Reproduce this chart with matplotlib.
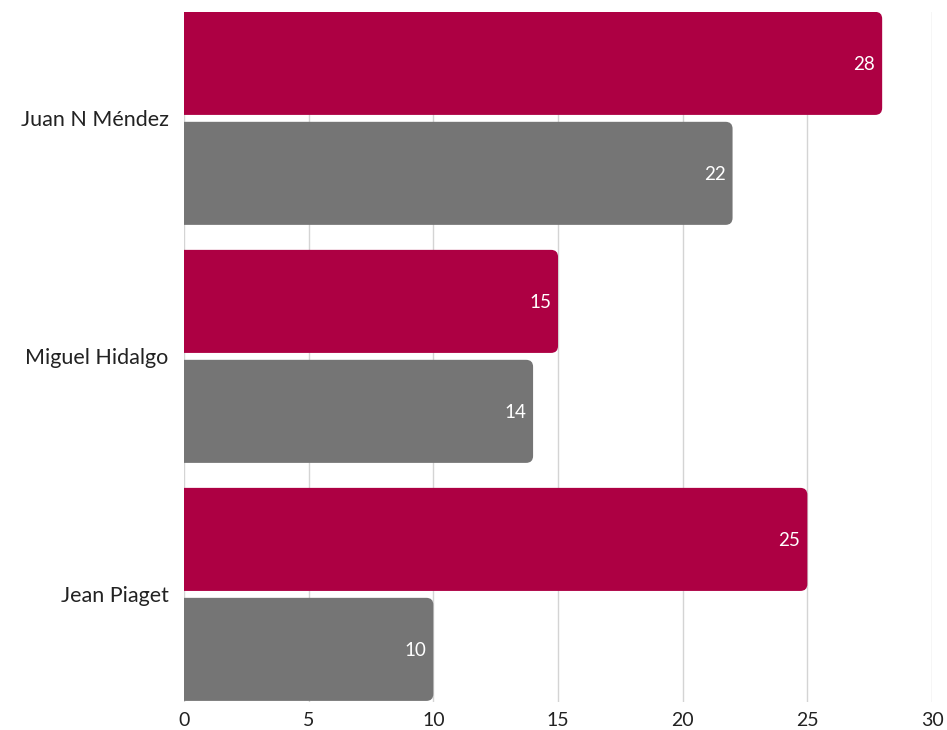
import matplotlib
matplotlib.use("Agg")
import matplotlib.pyplot as plt
from matplotlib.patches import FancyBboxPatch
import numpy as np

plt.rcParams['font.family'] = ['Lato', 'DejaVu Sans']

schools = ["Juan N Méndez", "Miguel Hidalgo", "Jean Piaget"]
series_a = [28, 15, 25]
series_b = [22, 14, 10]
x_ticks = [0, 5, 10, 15, 20, 25, 30]

red = "#AD0043"
gray = "#757575"

fig = plt.figure(figsize=(9.47, 7.3), dpi=100)
ax = fig.add_axes([0.1943, 0.0384, 0.7899, 0.9452])

y = np.arange(len(schools))
h = 0.433
off = 0.231

bars_a = ax.barh(y - off, series_a, height=h, color=red)
bars_b = ax.barh(y + off, series_b, height=h, color=gray)

ax.set_xlim(0, 30)
ax.set_ylim(2.452, -0.447)
ax.set_xticks(x_ticks)
ax.set_xticklabels([str(t) for t in x_ticks])
ax.set_yticks(y)
ax.set_yticklabels(schools)
ax.tick_params(axis='both', length=0, labelcolor="#222222")
ax.tick_params(axis='y', pad=11, labelsize=15.5)
ax.tick_params(axis='x', pad=7, labelsize=14)
for s in ax.spines.values():
    s.set_visible(False)
ax.grid(axis='x', color="#d4d4d4", linewidth=1)
ax.set_axisbelow(True)

# swap square bars for ones rounded at the value end
fig.canvas.draw()
p0 = ax.transData.transform((0, 0))
p1 = ax.transData.transform((1, 1))
px_x = abs(p1[0] - p0[0])
px_y = abs(p1[1] - p0[1])
radius = 7 / px_x
aspect = px_x / px_y

for bars, vals in ((bars_a, series_a), (bars_b, series_b)):
    for bar, v in zip(bars, vals):
        bx, by = bar.get_x(), bar.get_y()
        bw, bh = bar.get_width(), bar.get_height()
        color = bar.get_facecolor()
        bar.set_visible(False)
        rp = FancyBboxPatch((bx - 2, by), bw + 2, bh,
                            boxstyle=f"round,pad=0,rounding_size={radius}",
                            mutation_aspect=aspect, facecolor=color,
                            edgecolor="none", zorder=2)
        ax.add_patch(rp)
        ax.text(v - 0.28, by + bh / 2 + 0.006, str(v), ha='right', va='center',
                color="white", fontsize=13.5, zorder=3)

fig.savefig("out.png", dpi=100)
